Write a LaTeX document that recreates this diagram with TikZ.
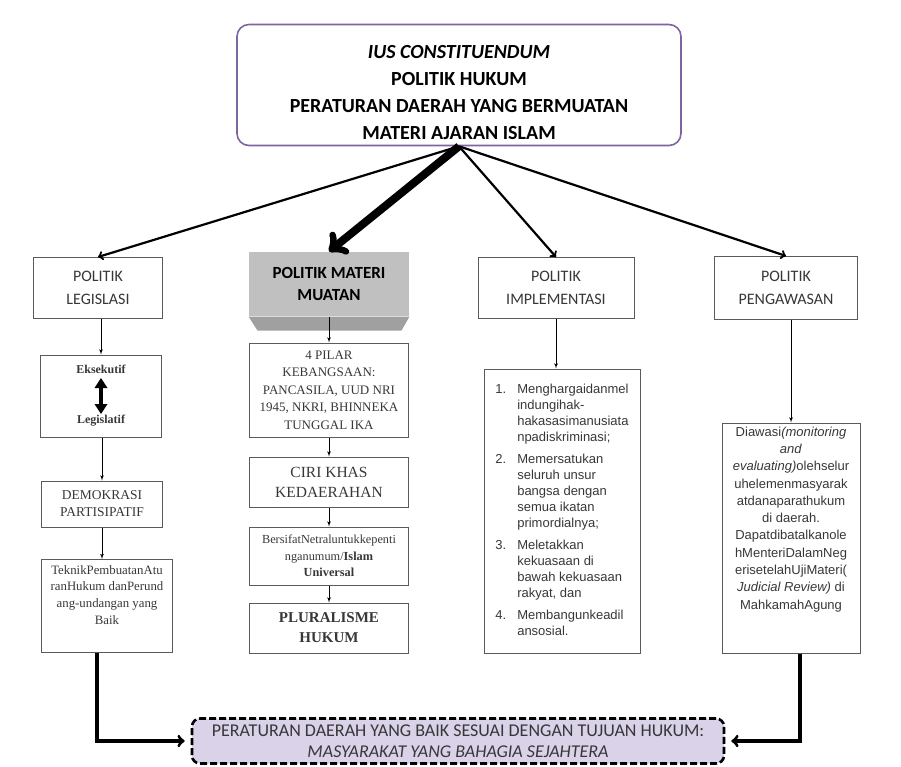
\documentclass[tikz,border=0pt]{standalone}
\usepackage{fontspec}
\setmainfont{Liberation Serif}
\setsansfont{Carlito}
\newfontfamily\arialfont{Liberation Sans}
\usetikzlibrary{arrows}

\definecolor{hukumpurple}{RGB}{128,100,162}
\definecolor{goalfill}{RGB}{217,210,233}
\definecolor{muatangrey}{RGB}{192,192,192}
\definecolor{muatandark}{RGB}{160,160,160}
\definecolor{boxline}{RGB}{90,90,90}
\definecolor{textgrey}{RGB}{55,55,55}

\begin{document}
\begin{tikzpicture}[x=1pt, y=-1pt,
            box/.style={draw=boxline, line width=1pt, align=center, text=textgrey, inner sep=0pt},
            boxtext/.style={align=center, text=textgrey, inner sep=0pt},
            sansbox/.style={box, font=\sffamily\fontsize{16}{23}\selectfont},
            serifbox/.style={box, font=\fontsize{13}{17.5}\selectfont},
            link/.style={-latex', line width=0.8pt},
            fork/.style={-to, line width=2.2pt},
            feed/.style={-to, line width=3.2pt},
            >=latex']
    \useasboundingbox (0,0) rectangle (901,766);
    \node[box, draw=hukumpurple, line width=1.6pt, rounded corners=12pt, minimum width=444, minimum height=121] (hukum) at (459,85) {};
    \node[boxtext, text=black, font=\sffamily\bfseries\fontsize{20}{27}\selectfont] (hukum text) at ([yshift=-8pt]hukum.center)
          {\textit{IUS CONSTITUENDUM}\\POLITIK HUKUM\\PERATURAN DAERAH YANG BERMUATAN\\MATERI AJARAN ISLAM};
    % politik legislasi
    \node[sansbox, minimum width=129, minimum height=61] (legislasi) at (98,288) {POLITIK\\LEGISLASI};
    \node[serifbox, minimum width=121, minimum height=82, font=\bfseries\fontsize{12}{13}\selectfont] (eksekutif) at (101,396) {Eksekutif\\[37pt]Legislatif};
    \node[serifbox, minimum width=121, minimum height=46, font=\fontsize{13.5}{17}\selectfont] (demokrasi) at (102,504) {DEMOKRASI\\PARTISIPATIF};
    \node[box, minimum width=131, minimum height=93] (teknik) at (107,606) {};
    \node[boxtext, anchor=north, font=\fontsize{12.8}{16.7}\selectfont] (teknik text)
          at ([yshift=-6pt]teknik.north) {TeknikPembuatanAtu\\ranHukum danPerund\\ang-undangan yang\\Baik};
    % politik materi muatan
    \node[box, draw=none, fill=muatangrey, minimum width=160, minimum height=64, text=black,
          font=\sffamily\bfseries\fontsize{17}{22}\selectfont] (muatan) at (329,284) {POLITIK MATERI\\MUATAN};
    \fill[muatandark] (muatan.south west) -- (muatan.south east) -- ++(-8,14) -- ++(-144,0) -- cycle;
    \node[serifbox, minimum width=159, minimum height=94] (pilar) at (329,390) {4 PILAR\\KEBANGSAAN:\\PANCASILA, UUD NRI\\1945, NKRI, BHINNEKA\\TUNGGAL IKA};
    \node[serifbox, minimum width=159, minimum height=50, font=\fontsize{15.5}{20}\selectfont] (ciri) at (329,482) {CIRI KHAS\\KEDAERAHAN};
    \node[serifbox, minimum width=159, minimum height=58, font=\fontsize{12.3}{16.5}\selectfont] (netral) at (329,556) {BersifatNetraluntukkepenti\\nganumum/\textbf{Islam}\\\textbf{Universal}};
    \node[serifbox, minimum width=159, minimum height=50, font=\bfseries\fontsize{15}{20}\selectfont] (pluralisme) at (329,628) {PLURALISME\\HUKUM};
    % politik implementasi
    \node[sansbox, minimum width=156, minimum height=61] (implementasi) at (556,288) {POLITIK\\IMPLEMENTASI};
    \node[box, minimum width=156, minimum height=284, font=\arialfont\fontsize{13}{16}\selectfont] (misi) at (562,511)
          {\begin{tabular}{@{}r@{\hspace{11pt}}l@{}}
           1. & Menghargaidanmel\\ & indungihak-\\ & hakasasimanusiata\\ & npadiskriminasi;\\[6pt]
           2. & Memersatukan\\ & seluruh unsur\\ & bangsa dengan\\ & semua ikatan\\ & primordialnya;\\[6pt]
           3. & Meletakkan\\ & kekuasaan di\\ & bawah kekuasaan\\ & rakyat, dan\\[6pt]
           4. & Membangunkeadil\\ & ansosial.
           \end{tabular}};
    % politik pengawasan
    \node[sansbox, minimum width=143, minimum height=63] (pengawasan) at (786,288) {POLITIK\\PENGAWASAN};
    \node[box, minimum width=138, minimum height=230] (awas) at (791,538) {};
    \node[boxtext, font=\arialfont\fontsize{13}{17.3}\selectfont, anchor=north] (awas text)
          at ([yshift=-4pt]awas.north)
          {Diawasi\textit{(monitoring}\\\textit{and}\\\textit{evaluating)}olehselur\\uhelemenmasyarak\\atdanaparathukum\\di daerah.\\
           Dapatdibatalkanole\\hMenteriDalamNeg\\erisetelahUjiMateri(\\\textit{Judicial Review)} di\\MahkamahAgung};
    % tujuan
    \node[box, draw=black, line width=2.6pt, dash pattern=on 7pt off 3pt, rounded corners=8pt, fill=goalfill,
          minimum width=532, minimum height=45, font=\sffamily\fontsize{18}{21}\selectfont] (tujuan) at (458,741)
          {PERATURAN DAERAH YANG BAIK SESUAI DENGAN TUJUAN HUKUM:\\\textit{MASYARAKAT YANG BAHAGIA SEJAHTERA}};
    % connectors
    \coordinate (pangkal) at (hukum.south);
    \draw[fork] (pangkal) -- (legislasi.north);
    \draw[-to, line width=8pt] (pangkal) -- (muatan.north);
    \draw[fork] (pangkal) -- (implementasi.north);
    \draw[fork] (pangkal) -- (pengawasan.north);
    \draw[link] (legislasi.south -| eksekutif.north) -- (eksekutif.north);
    % double arrow eksekutif - legislatif
    \draw[line width=4pt] ([yshift=9pt]eksekutif.center) -- ([yshift=-9pt]eksekutif.center);
    \fill ([yshift=18pt]eksekutif.center) -- ++(-6.5,10) -- ++(13,0) -- cycle;
    \fill ([yshift=-18pt]eksekutif.center) -- ++(-6.5,-10) -- ++(13,0) -- cycle;
    \draw[link] (eksekutif.south -| demokrasi.north) -- (demokrasi.north);
    \draw[link] (demokrasi.south) -- (demokrasi.south |- teknik.north);
    \draw[link] (muatan.south) -- (pilar.north);
    \draw[link] (pilar.south) -- (ciri.north);
    \draw[link] (ciri.south) -- (netral.north);
    \draw[link] (netral.south) -- (pluralisme.north);
    \draw[link] (implementasi.south) -- (implementasi.south |- misi.north);
    \draw[link] (awas.north |- pengawasan.south) -- (awas.north);
    \draw[feed] ([xshift=-10pt]teknik.south) |- ([xshift=-6pt]tujuan.west);
    \draw[feed] ([xshift=9pt]awas.south) |- ([xshift=6pt]tujuan.east);
\end{tikzpicture}
\end{document}
